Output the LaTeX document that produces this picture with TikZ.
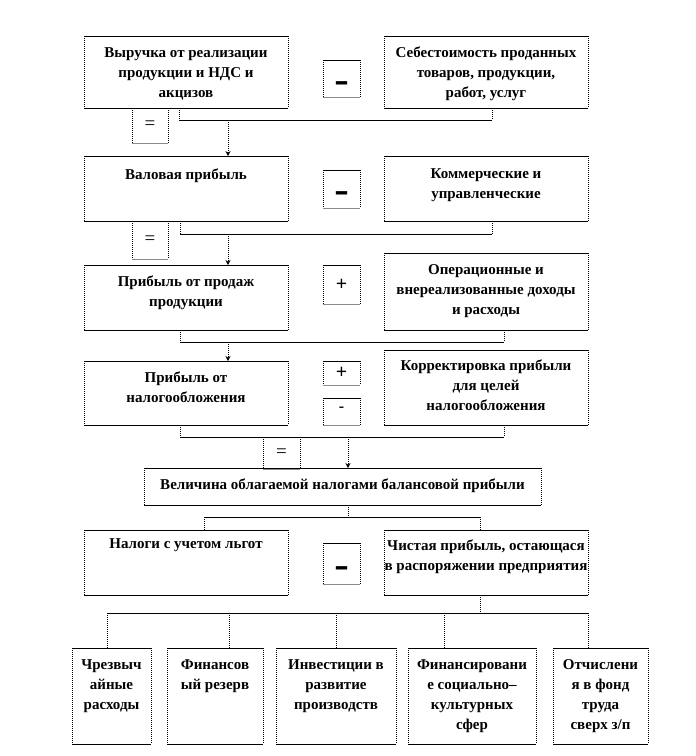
\documentclass[tikz,border=0pt]{standalone}
\usepackage{fontspec}
\usepackage{graphicx}
\setmainfont{Liberation Serif}
\usetikzlibrary{arrows.meta}
\newcommand\mkbox[6][box]{\node[#1, minimum width={(#5-#3)*1pt}, minimum height={(#6-#4)*1pt}] (#2) at ({(#3+#5)/2},{(#4+#6)/2}) {};}
\begin{document}
\begin{tikzpicture}[x=1pt,y=-1pt,
  hl/.style={draw=black, line width=0.9pt},
  vl/.style={draw=black, line width=0.9pt, dash pattern=on 1pt off 1pt},
  gl/.style={draw=black!45, line width=0.9pt},
  arr/.style={-{Stealth[length=5pt,width=5pt]}},
  box/.style={inner sep=0pt, outer sep=0pt,
    append after command={
      (\tikzlastnode.north west) edge[hl] (\tikzlastnode.north east)
      (\tikzlastnode.south west) edge[hl] (\tikzlastnode.south east)
      (\tikzlastnode.north west) edge[vl] (\tikzlastnode.south west)
      (\tikzlastnode.north east) edge[vl] (\tikzlastnode.south east)}},
  sbox/.style={inner sep=0pt, outer sep=0pt,
    append after command={
      (\tikzlastnode.north west) edge[hl] (\tikzlastnode.north east)
      (\tikzlastnode.south west) edge[gl] (\tikzlastnode.south east)
      (\tikzlastnode.north west) edge[vl] (\tikzlastnode.south west)
      (\tikzlastnode.north east) edge[vl] (\tikzlastnode.south east)}},
  txt/.style={inner sep=0pt, align=center, anchor=north,
    font=\fontsize{15}{20}\selectfont\bfseries},
  sgn/.style={inner sep=0pt, font=\fontsize{19}{19}\selectfont},
  psgn/.style={inner sep=0pt, font=\fontsize{20}{20}\selectfont\bfseries},
  dsh/.style={inner sep=0pt, font=\fontsize{20}{20}\selectfont\bfseries}
]
\useasboundingbox (0,0) rectangle (696,756);
\fill[white] (0,0) rectangle (696,756);

% Row 1
\mkbox{b1}{84}{36}{288}{108}
\mkbox{b2}{384}{36}{588}{108}
\mkbox[sbox]{m1}{323}{60}{360}{97}
\mkbox[sbox]{e1}{132}{108}{168}{143}
\node[txt] (t1) at ([yshift=-11pt]b1.north) {Выручка от реализации\\продукции и НДС и\\акцизов};
\node[txt] (t2) at ([yshift=-11pt]b2.north) {Себестоимость проданных\\товаров, продукции,\\работ, услуг};
\node[dsh] (m1s) at ([yshift=-9.5pt]m1.center) {\scalebox{1.1}[2.4]{–}};
\node[sgn] (e1s) at (e1.center) {=};

% Row 2
\mkbox{b3}{84}{156}{288}{221}
\mkbox{b4}{384}{156}{588}{221}
\mkbox[sbox]{m2}{323}{170}{360}{208}
\mkbox[sbox]{e2}{132}{221}{168}{259}
\node[txt] (t3) at ([yshift=-13pt]b3.north) {Валовая прибыль};
\node[txt] (t4) at ([yshift=-12pt]b4.north) {Коммерческие и\\управленческие};
\node[dsh] (m2s) at ([yshift=-9.5pt]m2.center) {\scalebox{1.1}[2.4]{–}};
\node[sgn] (e2s) at (e2.center) {=};

\coordinate (j1a) at (179,120);
\coordinate (j1b) at (492,120);
\coordinate (j1m) at (228,120);
\draw[vl] (b1.south -| j1a) -- (j1a);
\draw[vl] (b2.south -| j1b) -- (j1b);
\draw[hl] (j1a) -- (j1b);
\draw[vl,arr] (j1m) -- (b3.north -| j1m);

% Row 3
\mkbox{b5}{84}{265}{288}{330}
\mkbox{b6}{384}{253}{588}{330}
\mkbox[sbox]{p1}{323}{265}{360}{304}
\node[txt] (t5) at ([yshift=-11pt]b5.north) {Прибыль от продаж\\продукции};
\node[txt] (t6) at ([yshift=-11pt]b6.north) {Операционные и\\внереализованные доходы\\и расходы};
\node[psgn] (p1s) at (p1.center) {+};

\coordinate (j2a) at (180,234);
\coordinate (j2b) at (492,234);
\coordinate (j2m) at (228,234);
\draw[vl] (b3.south -| j2a) -- (j2a);
\draw[vl] (b4.south -| j2b) -- (j2b);
\draw[hl] (j2a) -- (j2b);
\draw[vl,arr] (j2m) -- (b5.north -| j2m);

% Row 4
\mkbox{b7}{84}{361}{288}{425}
\mkbox{b8}{384}{350}{588}{425}
\mkbox[sbox]{p2}{323}{361}{360}{385}
\mkbox[sbox]{m3}{323}{398}{360}{425}
\node[txt] (t7) at ([yshift=-11pt]b7.north) {Прибыль от\\налогообложения};
\node[txt] (t8) at ([yshift=-10pt]b8.north) {Корректировка прибыли\\для целей\\налогообложения};
\node[psgn] (p2s) at (p2.center) {+};
\node[sgn, font=\fontsize{16}{16}\selectfont\bfseries] (m3s) at ([yshift=2pt]m3.center) {-};

\coordinate (j3a) at (180,342);
\coordinate (j3b) at (504,342);
\coordinate (j3m) at (228,342);
\draw[vl] (b5.south -| j3a) -- (j3a);
\draw[vl] (b6.south -| j3b) -- (j3b);
\draw[hl] (j3a) -- (j3b);
\draw[vl,arr] (j3m) -- (b7.north -| j3m);

% Balance profit
\mkbox{b9}{144}{468}{541}{505}
\mkbox[sbox]{e3}{263}{437}{300}{469}
\node[txt, anchor=center] (t9) at ([yshift=1pt]b9.center) {Величина облагаемой налогами балансовой прибыли};
\node[sgn] (e3s) at (e3.center) {=};

\coordinate (j4a) at (180,437);
\coordinate (j4b) at (504,437);
\coordinate (j4m) at (348,437);
\draw[vl] (b7.south -| j4a) -- (j4a);
\draw[vl] (b8.south -| j4b) -- (j4b);
\draw[hl] (j4a) -- (j4b);
\draw[vl,arr] (j4m) -- (b9.north -| j4m);

% Row 5
\mkbox{b10}{84}{530}{288}{595}
\mkbox{b11}{384}{530}{588}{595}
\mkbox[sbox]{m4}{323}{543}{360}{584}
\node[txt] (t10) at ([yshift=-8pt]b10.north) {Налоги с учетом льгот};
\node[txt] (t11) at ([yshift=-10pt]b11.north) {Чистая прибыль, остающася\\в распоряжении предприятия};
\node[dsh] (m4s) at ([yshift=-10pt]m4.center) {\scalebox{1.1}[2.4]{–}};

\coordinate (j5m) at (348,517);
\coordinate (j5a) at (204,517);
\coordinate (j5b) at (480,517);
\draw[vl] (b9.south -| j5m) -- (j5m);
\draw[hl] (j5a) -- (j5b);
\draw[vl] (j5a) -- (b10.north -| j5a);
\draw[vl] (j5b) -- (b11.north -| j5b);

% Bottom row
\mkbox{c1}{72}{648}{151}{744}
\mkbox{c2}{167}{648}{263}{744}
\mkbox{c3}{276}{648}{396}{744}
\mkbox{c4}{408}{648}{536}{744}
\mkbox{c5}{553}{648}{648}{744}
\node[txt] (u1) at ([yshift=-11pt]c1.north) {Чрезвыч\\айные\\расходы};
\node[txt] (u2) at ([yshift=-11pt]c2.north) {Финансов\\ый резерв};
\node[txt] (u3) at ([yshift=-11pt]c3.north) {Инвестиции в\\развитие\\производств};
\node[txt] (u4) at ([yshift=-11pt]c4.north) {Финансировани\\е социально–\\культурных\\сфер};
\node[txt] (u5) at ([yshift=-11pt]c5.north) {Отчислени\\я в фонд\\труда\\сверх з/п};

\coordinate (k0) at (480,613);
\coordinate (k1) at (107,613);
\coordinate (k2) at (229,613);
\coordinate (k3) at (336,613);
\coordinate (k4) at (444,613);
\coordinate (k5) at (588,613);
\draw[vl] (b11.south -| k0) -- (k0);
\draw[hl] (k1) -- (k5);
\draw[vl] (k1) -- (c1.north -| k1);
\draw[vl] (k2) -- (c2.north -| k2);
\draw[vl] (k3) -- (c3.north -| k3);
\draw[vl] (k4) -- (c4.north -| k4);
\draw[vl] (k5) -- (c5.north -| k5);
\end{tikzpicture}
\end{document}
